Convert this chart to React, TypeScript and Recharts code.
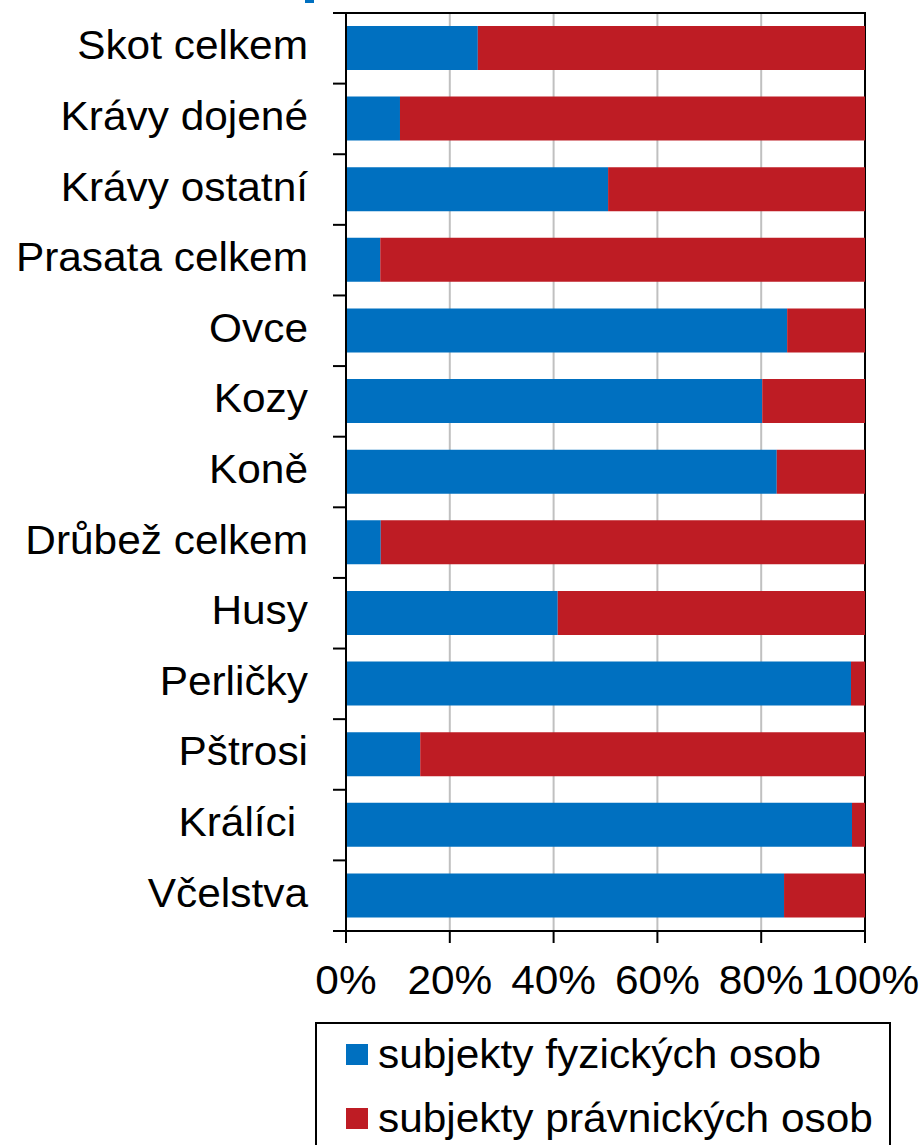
import { BarChart, Bar, XAxis, YAxis, CartesianGrid, ReferenceArea } from "recharts";

const categories = [
  "Skot celkem",
  "Krávy dojené",
  "Krávy ostatní",
  "Prasata celkem",
  "Ovce",
  "Kozy",
  "Koně",
  "Drůbež celkem",
  "Husy",
  "Perličky",
  "Pštrosi",
  "Králíci ",
  "Včelstva",
];

// share of natural persons (%), the rest belongs to legal persons
const fyzicke = [25.4, 10.4, 50.5, 6.6, 85.0, 80.2, 83.0, 6.7, 40.8, 97.3, 14.3, 97.5, 84.4];
const pravnicke = fyzicke.map((v) => +(100 - v).toFixed(1));

const xTicks = [0, 20, 40, 60, 80, 100];

const seriesNames = ["subjekty fyzických osob", "subjekty právnických osob"];
const seriesColors = ["#0070C0", "#BE1C24"];

const data = categories.map((name, i) => ({
  name,
  fyz: fyzicke[i],
  prav: pravnicke[i],
}));

const FONT = "'Liberation Sans', Arial, sans-serif";
const STRETCH = 1.06;

function CategoryTick(props: any) {
  const { x, y, payload, index } = props;
  const half = payload?.offset ?? 35.3;
  return (
    <g>
      <line x1={x - 13} x2={x} y1={y - half} y2={y - half} stroke="#000" strokeWidth={2} />
      {index === categories.length - 1 && (
        <line x1={x - 13} x2={x} y1={y + half} y2={y + half} stroke="#000" strokeWidth={2} />
      )}
      <text
        transform={`translate(${x - 38},${y + 11}) scale(${STRETCH},1)`}
        textAnchor="end"
        fontSize={40}
        fontFamily={FONT}
        fill="#000"
        style={{ whiteSpace: "pre" }}
      >
        {payload.value}
      </text>
    </g>
  );
}

function PercentTick(props: any) {
  const { x, y, payload } = props;
  return (
    <text
      transform={`translate(${x},${y + 29}) scale(${STRETCH},1)`}
      textAnchor="middle"
      fontSize={40}
      fontFamily={FONT}
      fill="#000"
    >
      {`${payload.value}%`}
    </text>
  );
}

export default function App() {
  return (
    <div
      style={{
        position: "absolute",
        left: 0,
        top: 0,
        width: 921,
        height: 1145,
        overflow: "hidden",
        background: "#fff",
        fontFamily: FONT,
      }}
    >
      <div style={{ position: "absolute", left: 305, top: 0, width: 9, height: 3, background: "#0070C0" }} />
      <BarChart
        width={921}
        height={1145}
        data={data}
        layout="vertical"
        margin={{ top: 13, right: 56, bottom: 154, left: 0 }}
        barSize={44}
      >
        <CartesianGrid horizontal={false} stroke="#c0c0c0" strokeWidth={2} />
        <XAxis
          type="number"
          domain={[0, 100]}
          ticks={xTicks}
          height={60}
          axisLine={{ stroke: "#000", strokeWidth: 2 }}
          tickLine={{ stroke: "#000", strokeWidth: 2 }}
          tickSize={12}
          tickMargin={22}
          tick={<PercentTick />}
          interval={0}
        />
        <YAxis
          type="category"
          dataKey="name"
          width={346}
          axisLine={{ stroke: "#000", strokeWidth: 2 }}
          tickLine={false}
          tickSize={0}
          tickMargin={0}
          tick={<CategoryTick />}
          interval={0}
        />
        <Bar dataKey="fyz" stackId="a" fill={seriesColors[0]} name={seriesNames[0]} isAnimationActive={false} />
        <Bar dataKey="prav" stackId="a" fill={seriesColors[1]} name={seriesNames[1]} isAnimationActive={false} />
        <ReferenceArea x1={0} x2={100} fill="none" stroke="#000" strokeWidth={2} ifOverflow="visible" />
      </BarChart>
      <div
        style={{
          position: "absolute",
          left: 315,
          top: 1022,
          width: 576,
          height: 160,
          border: "2px solid #000",
          boxSizing: "border-box",
        }}
      >
        {seriesNames.map((n, i) => (
          <div
            key={n}
            style={{
              position: "absolute",
              left: 29,
              top: 10 + i * 64,
              height: 40,
              display: "flex",
              alignItems: "center",
              whiteSpace: "nowrap",
            }}
          >
            <span style={{ width: 22, height: 21, background: seriesColors[i], display: "inline-block" }} />
            <span
              style={{
                fontSize: 40,
                marginLeft: 10,
                color: "#000",
                lineHeight: "40px",
                display: "inline-block",
                transform: `scaleX(${STRETCH})`,
                transformOrigin: "left center",
              }}
            >
              {n}
            </span>
          </div>
        ))}
      </div>
    </div>
  );
}
